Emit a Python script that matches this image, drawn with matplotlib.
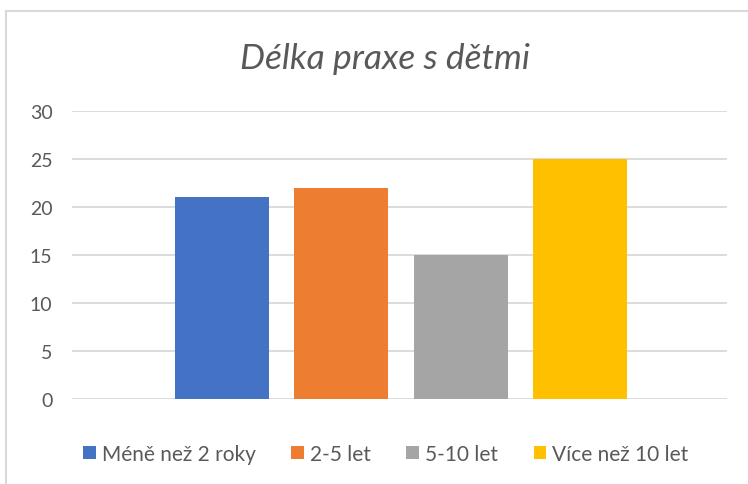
import matplotlib.pyplot as plt
from matplotlib.patches import Rectangle

# data
series = ["Méně než 2 roky", "2-5 let", "5-10 let", "Více než 10 let"]
values = [21, 22, 15, 25]
colors = ["#4472C4", "#ED7D31", "#A5A5A5", "#FFC000"]
yticks = [0, 5, 10, 15, 20, 25, 30]

plt.rcParams['font.family'] = ['Lato', 'DejaVu Sans']

fig = plt.figure(figsize=(7.48, 4.85), dpi=100)
ax = fig.add_axes([72/748, 1 - 400/485, 655/748, 288/485])

# outer chart border (cut off at right/bottom like the screenshot)
fig.patches.append(Rectangle((6/748, -0.05), 1.2, 1 - 12/485 + 0.05,
                             transform=fig.transFigure, fill=False,
                             edgecolor="#D9D9D9", linewidth=1.5))

width = 0.1435
step = 0.1825
for i, (name, v, c) in enumerate(zip(series, values, colors)):
    ax.bar((i - 1.5) * step + 0.002, v, width=width, color=c, label=name, zorder=3)

ax.set_xlim(-0.5, 0.5)
ax.set_ylim(0, 30)
ax.set_yticks(yticks)
ax.set_xticks([])
ax.grid(axis='y', color="#D9D9D9", linewidth=1.3, zorder=0)
for s in ax.spines.values():
    s.set_visible(False)
ax.tick_params(axis='y', length=0, pad=14, labelsize=14, labelcolor="#595959")

fig.text(385/748, 1 - 59/485, "Délka praxe s dětmi", ha='center', va='center',
         fontsize=25.5, style='italic', color="#595959")

fig.legend(loc='center', bbox_to_anchor=(386/748, 1 - 455/485), ncol=4,
           frameon=False, fontsize=15, labelcolor="#595959",
           handlelength=0.6, handleheight=0.6, handletextpad=0.3,
           columnspacing=1.7)

fig.savefig("out.png", dpi=100)
